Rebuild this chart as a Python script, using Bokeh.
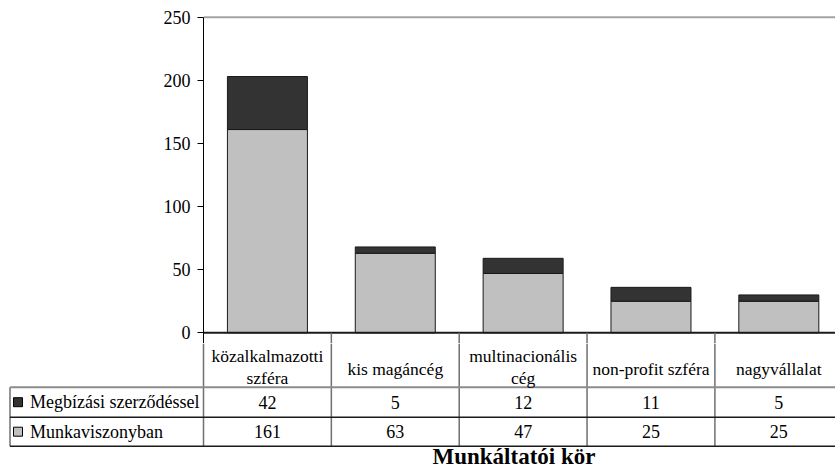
from bokeh.plotting import figure
from bokeh.models import Range1d, FixedTicker, ColumnDataSource
from bokeh.embed import file_html
from bokeh.resources import INLINE
from bokeh.core.properties import value

# --- data -------------------------------------------------------------
categories = ["közalkalmazotti szféra", "kis magáncég", "multinacionális cég",
              "non-profit szféra", "nagyvállalat"]
series_names = ["Megbízási szerződéssel", "Munkaviszonyban"]
megbizasi = [42, 5, 12, 11, 5]
munkaviszony = [161, 63, 47, 25, 25]
y_ticks = [0, 50, 100, 150, 200, 250]
x_title = "Munkáltatói kör"

# --- style / layout ---------------------------------------------------
FONT = "Liberation Serif, Times New Roman, DejaVu Serif, serif"
DARK = "#333333"
LIGHT = "#c0c0c0"
GRID = "#707070"

W = 835
H = 469
LEFT = 203            # left edge of the plotting area (px)
CAT_W = 127.85        # width of one category column (px)
TOP_H = 343           # height of the chart part
TOP_PAD = 14
ZERO_PX = 332.3       # pixel row of the value 0
PX_PER_UNIT = 1.2625

n = len(categories)
x_end = (W - LEFT) / CAT_W
y_lo = -(TOP_H - ZERO_PX) / PX_PER_UNIT
y_hi = y_lo + (TOP_H - TOP_PAD) / PX_PER_UNIT

centers = [i + 0.5 for i in range(n)]

# --- stacked column chart ---------------------------------------------
p = figure(width=W, height=TOP_H, x_range=Range1d(0, x_end),
           y_range=Range1d(y_lo, y_hi), output_backend="svg",
           toolbar_location=None, x_axis_location=None,
           min_border_left=LEFT, min_border_right=0,
           min_border_top=TOP_PAD, min_border_bottom=0,
           background_fill_color="white", border_fill_color="white",
           outline_line_color=None)
p.xgrid.visible = False
p.ygrid.visible = False

ax = p.yaxis[0]
ax.ticker = FixedTicker(ticks=y_ticks)
ax.bounds = (y_lo, y_ticks[-1])
ax.major_tick_out = 6
ax.major_tick_in = 0
ax.minor_tick_out = 0
ax.minor_tick_in = 0
ax.axis_line_color = "black"
ax.axis_line_width = 1
ax.major_tick_line_color = "black"
ax.major_label_text_font = FONT
ax.major_label_text_font_size = "18px"
ax.major_label_text_color = "black"
ax.major_label_standoff = 7

# gray line along the top of the value range
p.segment(x0=[0], y0=[y_ticks[-1]], x1=[x_end], y1=[y_ticks[-1]],
          line_color="#a3a3a3", line_width=2)

src = ColumnDataSource(dict(x=centers, munka=munkaviszony, megb=megbizasi))
p.vbar_stack(["munka", "megb"], x="x", width=80 / CAT_W, source=src,
             fill_color=[LIGHT, DARK], line_color="#1a1a1a", line_width=1)

# base line and start of the table column separators
p.segment(x0=[0], y0=[0], x1=[x_end], y1=[0], line_color="#1a1a1a", line_width=2)
p.segment(x0=list(range(1, n)), y0=[0] * (n - 1), x1=list(range(1, n)),
          y1=[y_lo] * (n - 1), line_color=GRID, line_width=1.5)

# --- data table underneath --------------------------------------------
BH = H - TOP_H
q = figure(width=W, height=BH, x_range=Range1d(-LEFT / CAT_W, x_end),
           y_range=Range1d(BH, 0), output_backend="svg",
           toolbar_location=None, x_axis_location=None, y_axis_location=None,
           min_border=0, background_fill_color="white",
           border_fill_color="white", outline_line_color=None)
q.xgrid.visible = False
q.ygrid.visible = False


def px_x(px):
    return (px - LEFT) / CAT_W


HEAD_B = 386.7 - TOP_H
ROW1_B = 416.7 - TOP_H
ROW2_B = 445.7 - TOP_H
TAB_L = px_x(9.5)

# column separators
q.segment(x0=list(range(n)), y0=[0] * n, x1=list(range(n)), y1=[ROW2_B] * n,
          line_color=GRID, line_width=1.5)
q.segment(x0=[TAB_L], y0=[HEAD_B], x1=[TAB_L], y1=[ROW2_B],
          line_color=GRID, line_width=1.5)
# row separators
q.segment(x0=[TAB_L], y0=[HEAD_B], x1=[x_end], y1=[HEAD_B],
          line_color="#8c8c8c", line_width=2)
q.segment(x0=[TAB_L, TAB_L], y0=[ROW1_B, ROW2_B], x1=[x_end, x_end],
          y1=[ROW1_B, ROW2_B], line_color="#1a1a1a", line_width=1.5)

TXT = dict(text_font=value(FONT), text_color="black")

# header cells: long names wrap onto two lines
hx, hy, ht = [], [], []
for c, cx in zip(categories, centers):
    if len(c) > 17:
        a, b = c.rsplit(" ", 1)
        hx += [cx, cx]
        hy += [355.0 - TOP_H, 377.7 - TOP_H]
        ht += [a, b]
    else:
        hx.append(cx)
        hy.append(368.3 - TOP_H)
        ht.append(c)
q.text(x=hx, y=hy, text=ht, text_align="center", text_baseline="alphabetic",
       text_font_size="17.5px", **TXT)

row_y = [(HEAD_B + ROW1_B) / 2, (ROW1_B + ROW2_B) / 2]
series_values = [megbizasi, munkaviszony]
series_colors = [DARK, LIGHT]

# row labels with colour keys
q.scatter(x=[px_x(17.5)] * 2, y=row_y, marker="square", size=9,
          fill_color=series_colors, line_color="black", line_width=1)
q.text(x=[px_x(29.5)] * 2, y=row_y, text=series_names, text_align="left",
       text_baseline="middle", text_font_size="18px", **TXT)

# values
for vals, ry in zip(series_values, row_y):
    q.text(x=centers, y=[ry] * n, text=[str(v) for v in vals],
           text_align="center", text_baseline="middle", text_font_size="18px",
           **TXT)

# axis title, sitting on the bottom edge
q.text(x=[px_x(513.5)], y=[BH - 0.5], text=[x_title], text_align="center",
       text_baseline="bottom", text_font=value(FONT), text_font_size="23px",
       text_font_style="bold", text_color="black")

# two independent roots stacked on the page, so each keeps its own frame
open("out.html", "w").write(file_html([p, q], INLINE))
